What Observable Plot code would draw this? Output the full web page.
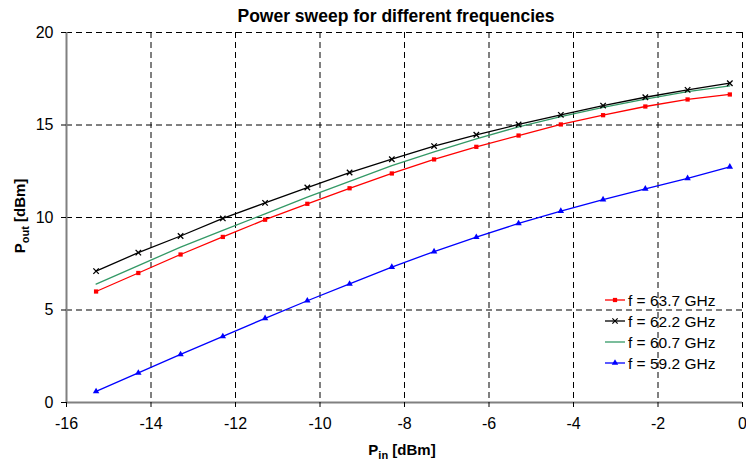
<!DOCTYPE html>
<html><head><meta charset="utf-8">
<script src="https://cdn.jsdelivr.net/npm/d3@7"></script>
<script src="https://cdn.jsdelivr.net/npm/@observablehq/plot@0.6"></script>
<style>body{margin:0;background:#fff;font-family:"Liberation Sans",Arial,sans-serif}</style>
</head><body><div id="chart"></div>
<script>
const pin = [-15.3,-14.3,-13.3,-12.3,-11.3,-10.3,-9.3,-8.3,-7.3,-6.3,-5.3,-4.3,-3.3,-2.3,-1.3,-0.3];
const f637 = [6.0,7.0,8.0,8.95,9.88,10.74,11.58,12.38,13.14,13.82,14.43,15.03,15.53,16.0,16.38,16.65];
const f622 = [7.1,8.1,9.0,9.95,10.79,11.62,12.43,13.15,13.86,14.47,15.03,15.55,16.05,16.5,16.9,17.26];
const f607 = [6.4,7.4,8.4,9.3,10.2,11.1,11.95,12.8,13.55,14.25,14.9,15.45,15.95,16.4,16.8,17.12];
const f592 = [0.6,1.6,2.6,3.57,4.55,5.5,6.41,7.32,8.16,8.94,9.68,10.35,10.97,11.55,12.12,12.74];
const seriesNames = ["f = 63.7 GHz","f = 62.2 GHz","f = 60.7 GHz","f = 59.2 GHz"];
const seriesColors = ["#ff0000","#000000","#339966","#0000ff"];
const seriesSymbols = ["square","times",null,"triangle"];
const xTicks = [-16,-14,-12,-10,-8,-6,-4,-2,0];
const yTicks = [0,5,10,15,20];
const xGrid = [-14,-12,-10,-8,-6,-4,-2,0];
const yGrid = [5,10,15,20];

const values = [f637,f622,f607,f592];
const data = [];
values.forEach((arr,k)=>arr.forEach((v,i)=>data.push({pin:pin[i],pout:v,s:seriesNames[k],k})));

const marks = [
  Plot.gridX(xGrid,{stroke:"#000",strokeOpacity:1,strokeDasharray:"6,4",strokeWidth:1}),
  Plot.gridY(yGrid,{stroke:"#000",strokeOpacity:1,strokeDasharray:"6,4",strokeWidth:1}),
  Plot.ruleX([-16],{stroke:"#808080",strokeWidth:2}),
  Plot.ruleY([0],{stroke:"#808080",strokeWidth:2}),
  Plot.axisX({ticks:xTicks,tickSize:5,tickPadding:10,label:null,fontSize:16,stroke:"#000",tickFormat:d=>String(d)}),
  Plot.axisY({ticks:yTicks,tickSize:5,tickPadding:8,label:null,fontSize:16,stroke:"#000",tickFormat:d=>String(d)})
];
[3,2,0,1].forEach(k=>{
  const d = data.filter(e=>e.k===k);
  marks.push(Plot.line(d,{x:"pin",y:"pout",stroke:seriesColors[k],strokeWidth:1.3}));
  if (seriesSymbols[k]) {
    if (seriesSymbols[k]==="times")
      marks.push(Plot.dot(d,{x:"pin",y:"pout",symbol:"times",r:2.6,stroke:seriesColors[k],strokeWidth:1.3}));
    else
      marks.push(Plot.dot(d,{x:"pin",y:"pout",symbol:seriesSymbols[k],r:2.4,fill:seriesColors[k],stroke:"none"}));
  }
});

const chart = Plot.plot({
  width:746,height:463,
  marginLeft:66,marginRight:4,marginTop:32,marginBottom:61,
  style:{fontFamily:"'Liberation Sans',Arial,sans-serif",fontSize:"16px",color:"#000",background:"#fff"},
  x:{domain:[-16,0]},
  y:{domain:[0,20]},
  marks
});
document.getElementById("chart").appendChild(chart);

const svg = d3.select(chart);
const ff = "'Liberation Sans',Arial,sans-serif";
svg.append("text").attr("x",396).attr("y",22).attr("text-anchor","middle")
  .attr("font-family",ff).attr("font-size",17.5).attr("font-weight","bold").attr("fill","#000")
  .text("Power sweep for different frequencies");
const yl = svg.append("text").attr("transform","translate(25,216) rotate(-90)").attr("text-anchor","middle")
  .attr("font-family",ff).attr("font-size",15).attr("font-weight","bold").attr("fill","#000");
yl.append("tspan").text("P");
yl.append("tspan").attr("font-size",11).attr("dy",4).text("out");
yl.append("tspan").attr("dy",-4).text(" [dBm]");
const xl = svg.append("text").attr("x",402).attr("y",455).attr("text-anchor","middle")
  .attr("font-family",ff).attr("font-size",15).attr("font-weight","bold").attr("fill","#000");
xl.append("tspan").text("P");
xl.append("tspan").attr("font-size",11).attr("dy",4).text("in");
xl.append("tspan").attr("dy",-4).text(" [dBm]");

// legend
const sym = {square:d3.symbolSquare,times:d3.symbolTimes,triangle:d3.symbolTriangle};
const lg = svg.append("g");
seriesNames.forEach((name,k)=>{
  const y = 300 + k*21;
  lg.append("line").attr("x1",605).attr("x2",625).attr("y1",y).attr("y2",y)
    .attr("stroke",seriesColors[k]).attr("stroke-width",1.3);
  if (seriesSymbols[k]) {
    const p = d3.symbol(sym[seriesSymbols[k]], seriesSymbols[k]==="times"?20:18)();
    const path = lg.append("path").attr("d",p).attr("transform",`translate(615,${y})`);
    if (seriesSymbols[k]==="times") path.attr("fill","none").attr("stroke",seriesColors[k]).attr("stroke-width",1.2);
    else path.attr("fill",seriesColors[k]);
  }
  lg.append("text").attr("x",628).attr("y",y+5.5).attr("text-anchor","start")
    .attr("font-family",ff).attr("font-size",15.5).attr("fill","#000").text(name);
});
</script></body></html>
